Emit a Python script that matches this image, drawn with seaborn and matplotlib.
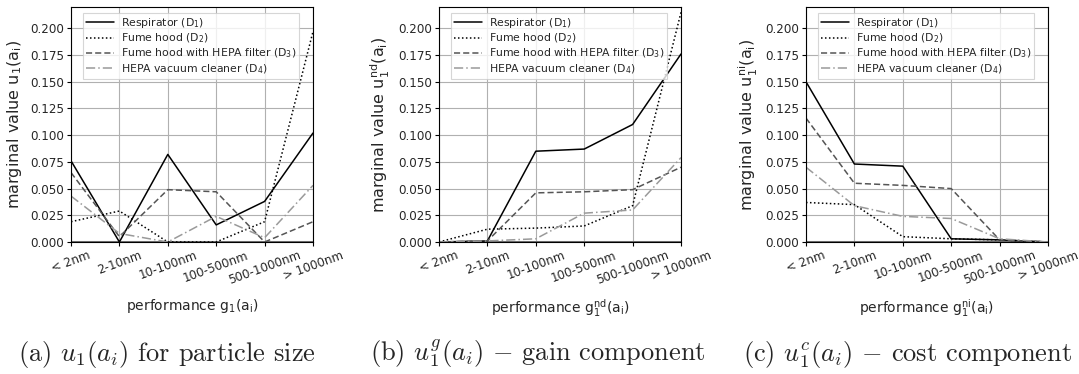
import numpy as np
import pandas as pd
import matplotlib
matplotlib.use("Agg")
import matplotlib.pyplot as plt
import seaborn as sns

categories = ["< 2nm", "2-10nm", "10-100nm", "100-500nm", "500-1000nm", "> 1000nm"]
series_names = [r"Respirator ($\mathregular{D_1}$)", r"Fume hood ($\mathregular{D_2}$)",
                r"Fume hood with HEPA filter ($\mathregular{D_3}$)",
                r"HEPA vacuum cleaner ($\mathregular{D_4}$)"]

a_d1 = [0.076, 0.000, 0.082, 0.016, 0.038, 0.102]
a_d2 = [0.019, 0.029, 0.000, 0.000, 0.019, 0.197]
a_d3 = [0.065, 0.005, 0.049, 0.047, 0.000, 0.019]
a_d4 = [0.043, 0.008, 0.000, 0.024, 0.004, 0.053]

b_d1 = [0.000, 0.001, 0.085, 0.087, 0.110, 0.176]
b_d2 = [0.000, 0.012, 0.013, 0.015, 0.034, 0.215]
b_d3 = [0.000, 0.001, 0.046, 0.047, 0.049, 0.070]
b_d4 = [0.000, 0.001, 0.003, 0.027, 0.030, 0.079]

c_d1 = [0.150, 0.073, 0.071, 0.003, 0.002, 0.000]
c_d2 = [0.037, 0.035, 0.005, 0.003, 0.002, 0.000]
c_d3 = [0.116, 0.055, 0.053, 0.050, 0.002, 0.000]
c_d4 = [0.070, 0.034, 0.024, 0.022, 0.003, 0.000]

ylabels = [r"marginal value $\mathregular{u_1(a_i)}$",
           r"marginal value $\mathregular{u_1^{nd}(a_i)}$",
           r"marginal value $\mathregular{u_1^{ni}(a_i)}$"]
xlabels = [r"performance $\mathregular{g_1(a_i)}$",
           r"performance $\mathregular{g_1^{nd}(a_i)}$",
           r"performance $\mathregular{g_1^{ni}(a_i)}$"]
captions = [r"(a) $u_1(a_i)$ for particle size",
            r"(b) $u_1^g(a_i)$ $-$ gain component",
            r"(c) $u_1^c(a_i)$ $-$ cost component"]

panels = [[a_d1, a_d2, a_d3, a_d4], [b_d1, b_d2, b_d3, b_d4], [c_d1, c_d2, c_d3, c_d4]]

sns.set_style("white")
plt.rcParams['font.family'] = ['DejaVu Sans']
plt.rcParams['mathtext.fontset'] = 'cm'

colors = ["#000000", "#000000", "#555555", "#9a9a9a"]
styles = ["-", (0, (1, 1.6)), (0, (4, 2)), (0, (6, 2, 1, 2))]

fig = plt.figure(figsize=(10.79, 3.74), dpi=100)
lefts = [71 / 1079, 439 / 1079, 806 / 1079]
W = 242 / 1079
B = 1 - 242 / 374
H = (242 - 7) / 374
cap_x = [167 / 1079, 538 / 1079, 907 / 1079]

for k in range(3):
    ax = fig.add_axes([lefts[k], B, W, H])
    x = np.arange(len(categories))
    for vals, name, c, ls in zip(panels[k], series_names, colors, styles):
        df = pd.DataFrame({"x": x, "y": vals})
        sns.lineplot(data=df, x="x", y="y", ax=ax, color=c, linestyle=ls,
                     linewidth=1.1, label=name)
    ax.set_xlim(0, 5)
    ax.set_ylim(0, 0.22)
    ax.set_yticks(np.arange(0, 0.2001, 0.025))
    ax.set_yticklabels([f"{v:.3f}" for v in np.arange(0, 0.2001, 0.025)], fontsize=8.6)
    ax.set_xticks(x)
    ax.set_xticklabels(categories, rotation=20, ha="center", fontsize=8.6)
    ax.grid(True, color="#b0b0b0", linewidth=0.8)
    ax.set_axisbelow(True)
    ax.axhline(0, color="#707070", linewidth=2.2, zorder=1)
    for s in ax.spines.values():
        s.set_color("black")
        s.set_linewidth(0.8)
    ax.tick_params(axis="both", length=3, width=0.8, color="black", pad=2, bottom=True, left=True)
    ax.set_ylabel(ylabels[k], fontsize=11.5, labelpad=4)
    ax.set_xlabel(xlabels[k], fontsize=10, labelpad=7)
    leg = ax.legend(loc="upper left", bbox_to_anchor=(0.04, 0.985), fontsize=7.8,
                    frameon=True, fancybox=False, borderpad=0.3, labelspacing=0.15,
                    handlelength=2.6, handletextpad=0.6, borderaxespad=0.2)
    leg.get_frame().set_edgecolor("#cccccc")
    leg.get_frame().set_linewidth(0.8)
    fig.text(cap_x[k], 1 - 354 / 374, captions[k], ha="center", va="center",
             fontsize=19, family=["cmr10", "DejaVu Serif"])

fig.savefig("out.png", dpi=100)
